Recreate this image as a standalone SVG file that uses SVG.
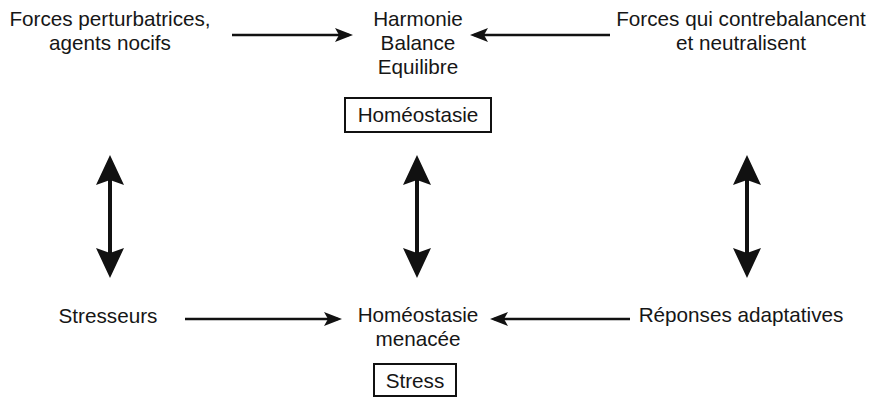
<svg xmlns="http://www.w3.org/2000/svg" width="873" height="397" viewBox="0 0 873 397">
<defs>
<style>
text{font-family:"Liberation Sans",Arial,sans-serif;font-size:20.7px;fill:#161616;text-anchor:middle}
.box{fill:#fff;stroke:#111;stroke-width:2}
.h{stroke:#111;stroke-width:2.5;fill:none}
.v{stroke:#111;stroke-width:4;fill:none}
</style>
<marker id="ah" viewBox="0 0 18 14" refX="14" refY="7" markerWidth="18" markerHeight="14" markerUnits="userSpaceOnUse" orient="auto"><path d="M0,0 L18,7 L0,14 L4,7 z" fill="#111"/></marker>
<marker id="bh" viewBox="0 0 30 28" refX="22" refY="14" markerWidth="30" markerHeight="28" markerUnits="userSpaceOnUse" orient="auto-start-reverse"><path d="M0,0 L30,14 L0,28 L5,14 z" fill="#111"/></marker>
</defs>
<rect width="873" height="397" fill="#fff"/>
<g id="connectors">
<line class="h" x1="232" y1="35" x2="349" y2="35" marker-end="url(#ah)"/>
<line class="h" x1="610" y1="35" x2="474" y2="35" marker-end="url(#ah)"/>
<line class="h" x1="185" y1="319" x2="338" y2="319" marker-end="url(#ah)"/>
<line class="h" x1="630" y1="319" x2="494" y2="319" marker-end="url(#ah)"/>
<line class="v" x1="110" y1="163" x2="110" y2="270" marker-start="url(#bh)" marker-end="url(#bh)"/>
<line class="v" x1="417" y1="163" x2="417" y2="270" marker-start="url(#bh)" marker-end="url(#bh)"/>
<line class="v" x1="747" y1="163" x2="747" y2="270" marker-start="url(#bh)" marker-end="url(#bh)"/>
</g>
<g id="forces-perturbatrices"><text x="110" y="26">Forces perturbatrices,</text><text x="110" y="50">agents nocifs</text></g>
<g id="harmonie"><text x="418" y="26">Harmonie</text><text x="418" y="50">Balance</text><text x="418" y="74">Equilibre</text></g>
<g id="forces-contrebalancent"><text x="741" y="26">Forces qui contrebalancent</text><text x="741" y="50">et neutralisent</text></g>
<g id="homeostasie"><rect class="box" x="345" y="98" width="146" height="34"/><text x="418" y="122">Homéostasie</text></g>
<g id="stresseurs"><text x="108" y="323">Stresseurs</text></g>
<g id="homeostasie-menacee"><text x="418" y="322">Homéostasie</text><text x="418" y="346">menacée</text></g>
<g id="reponses"><text x="741" y="322">Réponses adaptatives</text></g>
<g id="stress"><rect class="box" x="374" y="364" width="82" height="32"/><text x="415" y="388">Stress</text></g>
</svg>
